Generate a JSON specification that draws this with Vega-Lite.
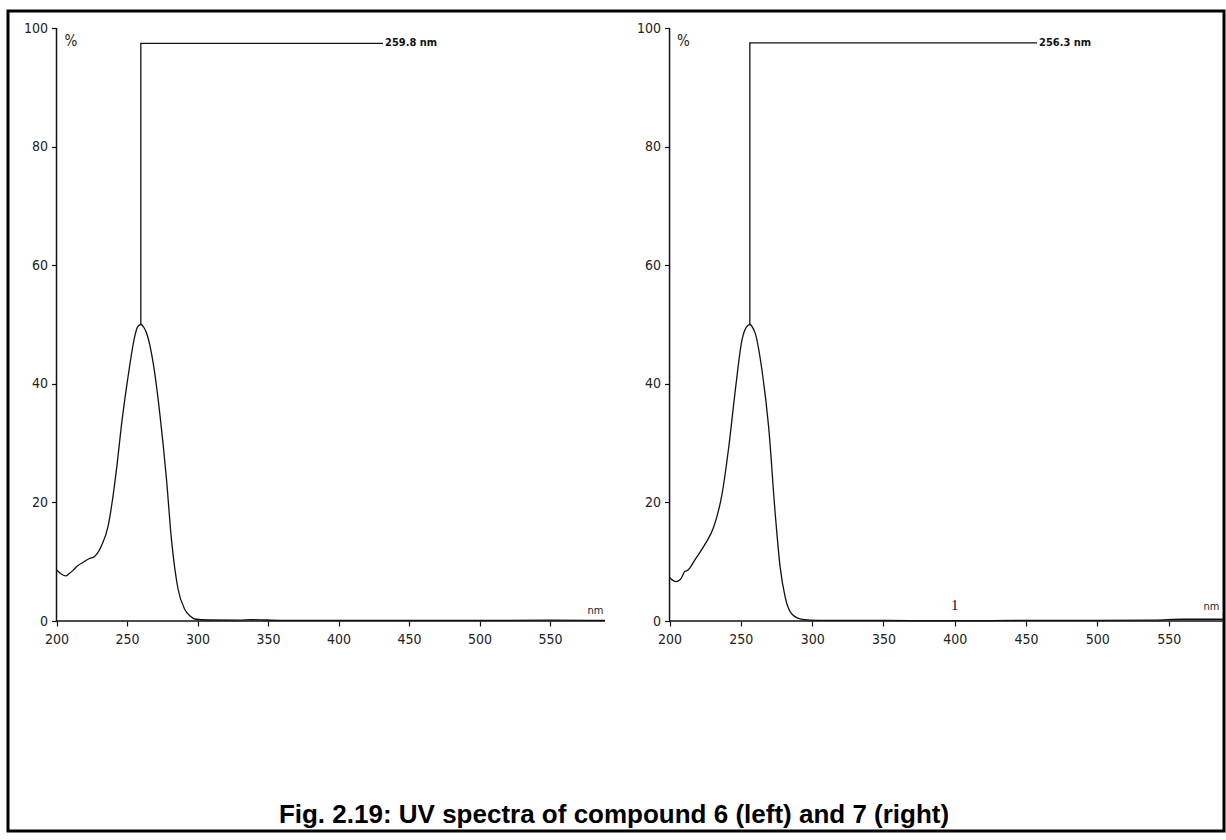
{
  "$schema": "https://vega.github.io/schema/vega-lite/v6.json",
  "width": 1216,
  "height": 820,
  "padding": {"left": 8, "top": 11, "right": 2, "bottom": 9},
  "background": "white",
  "data": {"values": [{"id": 1}]},
  "config": {
    "view": {"stroke": "black", "strokeWidth": 3},
    "axis": {
      "grid": false,
      "domain": false,
      "tickColor": "#111",
      "tickWidth": 1.2,
      "tickSize": 5,
      "labelFont": "DejaVu Sans Condensed, DejaVu Sans, sans-serif",
      "labelFontSize": 14,
      "labelColor": "#222",
      "labelFlush": false,
      "labelOverlap": false,
      "titleFont": "DejaVu Sans Condensed, DejaVu Sans, sans-serif",
      "titleFontWeight": "normal",
      "titleColor": "#222",
      "titleAngle": 0,
      "titleAlign": "center",
      "titleBaseline": "middle"
    }
  },
  "datasets": {
    "spectra": [
      {"compound": "6", "nm": 200, "pct": 8.6},
      {"compound": "6", "nm": 203, "pct": 8.0},
      {"compound": "6", "nm": 206.5, "pct": 7.6},
      {"compound": "6", "nm": 209, "pct": 8.0},
      {"compound": "6", "nm": 211.5, "pct": 8.5},
      {"compound": "6", "nm": 215, "pct": 9.3},
      {"compound": "6", "nm": 218.9, "pct": 9.9},
      {"compound": "6", "nm": 223, "pct": 10.5},
      {"compound": "6", "nm": 227, "pct": 10.9},
      {"compound": "6", "nm": 231.9, "pct": 12.7},
      {"compound": "6", "nm": 236.6, "pct": 16.0},
      {"compound": "6", "nm": 240.1, "pct": 21.1},
      {"compound": "6", "nm": 243, "pct": 26.5},
      {"compound": "6", "nm": 246, "pct": 32.9},
      {"compound": "6", "nm": 250.8, "pct": 41.3},
      {"compound": "6", "nm": 255.5, "pct": 48.0},
      {"compound": "6", "nm": 257.5, "pct": 49.6},
      {"compound": "6", "nm": 259.8, "pct": 50.0},
      {"compound": "6", "nm": 262, "pct": 49.5},
      {"compound": "6", "nm": 263.8, "pct": 48.6},
      {"compound": "6", "nm": 268.5, "pct": 43.6},
      {"compound": "6", "nm": 273.2, "pct": 35.1},
      {"compound": "6", "nm": 278, "pct": 23.9},
      {"compound": "6", "nm": 281.5, "pct": 13.8},
      {"compound": "6", "nm": 286.2, "pct": 5.4},
      {"compound": "6", "nm": 290.9, "pct": 2.0},
      {"compound": "6", "nm": 295, "pct": 0.8},
      {"compound": "6", "nm": 298, "pct": 0.34},
      {"compound": "6", "nm": 307.5, "pct": 0.17},
      {"compound": "6", "nm": 330, "pct": 0.15},
      {"compound": "6", "nm": 338, "pct": 0.25},
      {"compound": "6", "nm": 360, "pct": 0.1},
      {"compound": "6", "nm": 400, "pct": 0.1},
      {"compound": "6", "nm": 450, "pct": 0.1},
      {"compound": "6", "nm": 500, "pct": 0.1},
      {"compound": "6", "nm": 550, "pct": 0.15},
      {"compound": "6", "nm": 589, "pct": 0.1},
      {"compound": "7", "nm": 200, "pct": 7.3},
      {"compound": "7", "nm": 201.5, "pct": 7.0},
      {"compound": "7", "nm": 204.5, "pct": 6.65},
      {"compound": "7", "nm": 207.5, "pct": 7.0},
      {"compound": "7", "nm": 209, "pct": 7.6},
      {"compound": "7", "nm": 210.5, "pct": 8.3},
      {"compound": "7", "nm": 213, "pct": 8.6},
      {"compound": "7", "nm": 218, "pct": 10.4},
      {"compound": "7", "nm": 225, "pct": 13.0},
      {"compound": "7", "nm": 230.9, "pct": 15.8},
      {"compound": "7", "nm": 236.8, "pct": 21.4},
      {"compound": "7", "nm": 241.5, "pct": 29.3},
      {"compound": "7", "nm": 246.1, "pct": 38.9},
      {"compound": "7", "nm": 250.8, "pct": 47.4},
      {"compound": "7", "nm": 254, "pct": 49.6},
      {"compound": "7", "nm": 256.3, "pct": 50.0},
      {"compound": "7", "nm": 258.5, "pct": 49.4},
      {"compound": "7", "nm": 260.1, "pct": 48.5},
      {"compound": "7", "nm": 264.8, "pct": 42.3},
      {"compound": "7", "nm": 269.5, "pct": 32.7},
      {"compound": "7", "nm": 274.1, "pct": 18.1},
      {"compound": "7", "nm": 277.6, "pct": 9.0},
      {"compound": "7", "nm": 281.2, "pct": 3.9},
      {"compound": "7", "nm": 285.9, "pct": 1.13},
      {"compound": "7", "nm": 292.9, "pct": 0.29},
      {"compound": "7", "nm": 304.6, "pct": 0.1},
      {"compound": "7", "nm": 350, "pct": 0.1},
      {"compound": "7", "nm": 400, "pct": 0.05},
      {"compound": "7", "nm": 450, "pct": 0.1},
      {"compound": "7", "nm": 500, "pct": 0.1},
      {"compound": "7", "nm": 540, "pct": 0.15},
      {"compound": "7", "nm": 560, "pct": 0.3},
      {"compound": "7", "nm": 588, "pct": 0.3}
    ],
    "markers": [
      {"compound": "6", "nm": 259.8, "pct": 50.0, "step": 0, "label": ""},
      {"compound": "6", "nm": 259.8, "pct": 97.4, "step": 1, "label": ""},
      {"compound": "6", "nm": 431.6, "pct": 97.4, "step": 2, "label": "259.8 nm"},
      {"compound": "7", "nm": 256.3, "pct": 50.0, "step": 0, "label": ""},
      {"compound": "7", "nm": 256.3, "pct": 97.5, "step": 1, "label": ""},
      {"compound": "7", "nm": 457.7, "pct": 97.5, "step": 2, "label": "256.3 nm"}
    ]
  },
  "layer": [
    {
      "layer": [
        {
          "data": {"name": "spectra"},
          "transform": [{"filter": "datum.compound === '6'"}],
          "mark": {"type": "line", "interpolate": "monotone", "color": "#111", "strokeWidth": 1.3},
          "encoding": {
            "x": {"field": "nm", "type": "quantitative",
                  "scale": {"domain": [165.6, 1028.0], "nice": false, "zero": false},
                  "axis": {"orient": "bottom", "offset": -210, "values": [200, 250, 300, 350, 400, 450, 500, 550],
                           "labelPadding": 6, "title": "nm", "titleX": 587, "titleY": -11, "titleFontSize": 11}},
            "y": {"field": "pct", "type": "quantitative",
                  "scale": {"domain": [-35.41, 102.87], "nice": false, "zero": false},
                  "axis": {"orient": "left", "offset": -48.5, "values": [0, 20, 40, 60, 80, 100],
                           "labelPadding": 4, "title": "%", "titleX": 14, "titleY": 29, "titleFontSize": 15}}
          }
        },
        {
          "data": {"name": "markers"},
          "transform": [{"filter": "datum.compound === '6'"}],
          "mark": {"type": "line", "color": "#111", "strokeWidth": 1.3},
          "encoding": {
            "x": {"field": "nm", "type": "quantitative",
                  "scale": {"domain": [165.6, 1028.0], "nice": false, "zero": false},
                  "axis": {"orient": "bottom", "offset": -210, "values": [200, 250, 300, 350, 400, 450, 500, 550],
                           "labelPadding": 6, "title": "nm", "titleX": 587, "titleY": -11, "titleFontSize": 11}},
            "y": {"field": "pct", "type": "quantitative",
                  "scale": {"domain": [-35.41, 102.87], "nice": false, "zero": false},
                  "axis": {"orient": "left", "offset": -48.5, "values": [0, 20, 40, 60, 80, 100],
                           "labelPadding": 4, "title": "%", "titleX": 14, "titleY": 29, "titleFontSize": 15}},
            "order": {"field": "step", "type": "quantitative"}
          }
        },
        {
          "data": {"name": "markers"},
          "transform": [{"filter": "datum.compound === '6' && datum.step === 2"}],
          "mark": {"type": "text", "align": "left", "baseline": "middle", "dx": 2, "fontSize": 11, "fontWeight": "bold", "fill": "#111",
                   "font": "DejaVu Sans Condensed, DejaVu Sans, sans-serif"},
          "encoding": {
            "x": {"field": "nm", "type": "quantitative",
                  "scale": {"domain": [165.6, 1028.0], "nice": false, "zero": false},
                  "axis": {"orient": "bottom", "offset": -210, "values": [200, 250, 300, 350, 400, 450, 500, 550],
                           "labelPadding": 6, "title": "nm", "titleX": 587, "titleY": -11, "titleFontSize": 11}},
            "y": {"field": "pct", "type": "quantitative",
                  "scale": {"domain": [-35.41, 102.87], "nice": false, "zero": false},
                  "axis": {"orient": "left", "offset": -48.5, "values": [0, 20, 40, 60, 80, 100],
                           "labelPadding": 4, "title": "%", "titleX": 14, "titleY": 29, "titleFontSize": 15}},
            "text": {"field": "label"}
          }
        },
        {
          "mark": {"type": "rule", "color": "#111", "strokeWidth": 1.5},
          "encoding": {
            "x": {"datum": 200, "type": "quantitative",
                  "scale": {"domain": [165.6, 1028.0], "nice": false, "zero": false},
                  "axis": {"orient": "bottom", "offset": -210, "values": [200, 250, 300, 350, 400, 450, 500, 550],
                           "labelPadding": 6, "title": "nm", "titleX": 587, "titleY": -11, "titleFontSize": 11}},
            "x2": {"datum": 589},
            "y": {"datum": 0, "type": "quantitative",
                  "scale": {"domain": [-35.41, 102.87], "nice": false, "zero": false},
                  "axis": {"orient": "left", "offset": -48.5, "values": [0, 20, 40, 60, 80, 100],
                           "labelPadding": 4, "title": "%", "titleX": 14, "titleY": 29, "titleFontSize": 15}}
          }
        },
        {
          "mark": {"type": "rule", "color": "#111", "strokeWidth": 1.5},
          "encoding": {
            "x": {"datum": 200, "type": "quantitative",
                  "scale": {"domain": [165.6, 1028.0], "nice": false, "zero": false},
                  "axis": {"orient": "bottom", "offset": -210, "values": [200, 250, 300, 350, 400, 450, 500, 550],
                           "labelPadding": 6, "title": "nm", "titleX": 587, "titleY": -11, "titleFontSize": 11}},
            "y": {"datum": 0, "type": "quantitative",
                  "scale": {"domain": [-35.41, 102.87], "nice": false, "zero": false},
                  "axis": {"orient": "left", "offset": -48.5, "values": [0, 20, 40, 60, 80, 100],
                           "labelPadding": 4, "title": "%", "titleX": 14, "titleY": 29, "titleFontSize": 15}},
            "y2": {"datum": 100}
          }
        },
        {
          "mark": {"type": "text", "align": "center", "baseline": "alphabetic", "fontSize": 26, "fontWeight": "bold", "fill": "#000",
                   "font": "Liberation Sans, Arial, sans-serif"},
          "encoding": {
            "x": {"datum": 595.4, "type": "quantitative",
                  "scale": {"domain": [165.6, 1028.0], "nice": false, "zero": false},
                  "axis": {"orient": "bottom", "offset": -210, "values": [200, 250, 300, 350, 400, 450, 500, 550],
                           "labelPadding": 6, "title": "nm", "titleX": 587, "titleY": -11, "titleFontSize": 11}},
            "y": {"datum": -34.06, "type": "quantitative",
                  "scale": {"domain": [-35.41, 102.87], "nice": false, "zero": false},
                  "axis": {"orient": "left", "offset": -48.5, "values": [0, 20, 40, 60, 80, 100],
                           "labelPadding": 4, "title": "%", "titleX": 14, "titleY": 29, "titleFontSize": 15}},
            "text": {"value": "Fig. 2.19: UV spectra of compound 6 (left) and 7 (right)"}
          }
        }
      ]
    },
    {
      "layer": [
        {
          "data": {"name": "spectra"},
          "transform": [{"filter": "datum.compound === '7'"}],
          "mark": {"type": "line", "interpolate": "monotone", "color": "#111", "strokeWidth": 1.3},
          "encoding": {
            "x": {"field": "nm", "type": "quantitative",
                  "scale": {"domain": [-263.9, 588.8], "nice": false, "zero": false},
                  "axis": {"orient": "bottom", "offset": -210, "values": [200, 250, 300, 350, 400, 450, 500, 550],
                           "labelPadding": 6, "title": "nm", "titleX": 1203, "titleY": -15, "titleFontSize": 11}},
            "y": {"field": "pct", "type": "quantitative",
                  "scale": {"domain": [-35.41, 102.87], "nice": false, "zero": false},
                  "axis": {"orient": "left", "offset": -661.5, "values": [0, 20, 40, 60, 80, 100],
                           "labelPadding": 4, "title": "%", "titleX": 13.5, "titleY": 29, "titleFontSize": 15}}
          }
        },
        {
          "data": {"name": "markers"},
          "transform": [{"filter": "datum.compound === '7'"}],
          "mark": {"type": "line", "color": "#111", "strokeWidth": 1.3},
          "encoding": {
            "x": {"field": "nm", "type": "quantitative",
                  "scale": {"domain": [-263.9, 588.8], "nice": false, "zero": false},
                  "axis": {"orient": "bottom", "offset": -210, "values": [200, 250, 300, 350, 400, 450, 500, 550],
                           "labelPadding": 6, "title": "nm", "titleX": 1203, "titleY": -15, "titleFontSize": 11}},
            "y": {"field": "pct", "type": "quantitative",
                  "scale": {"domain": [-35.41, 102.87], "nice": false, "zero": false},
                  "axis": {"orient": "left", "offset": -661.5, "values": [0, 20, 40, 60, 80, 100],
                           "labelPadding": 4, "title": "%", "titleX": 13.5, "titleY": 29, "titleFontSize": 15}},
            "order": {"field": "step", "type": "quantitative"}
          }
        },
        {
          "data": {"name": "markers"},
          "transform": [{"filter": "datum.compound === '7' && datum.step === 2"}],
          "mark": {"type": "text", "align": "left", "baseline": "middle", "dx": 2, "fontSize": 11, "fontWeight": "bold", "fill": "#111",
                   "font": "DejaVu Sans Condensed, DejaVu Sans, sans-serif"},
          "encoding": {
            "x": {"field": "nm", "type": "quantitative",
                  "scale": {"domain": [-263.9, 588.8], "nice": false, "zero": false},
                  "axis": {"orient": "bottom", "offset": -210, "values": [200, 250, 300, 350, 400, 450, 500, 550],
                           "labelPadding": 6, "title": "nm", "titleX": 1203, "titleY": -15, "titleFontSize": 11}},
            "y": {"field": "pct", "type": "quantitative",
                  "scale": {"domain": [-35.41, 102.87], "nice": false, "zero": false},
                  "axis": {"orient": "left", "offset": -661.5, "values": [0, 20, 40, 60, 80, 100],
                           "labelPadding": 4, "title": "%", "titleX": 13.5, "titleY": 29, "titleFontSize": 15}},
            "text": {"field": "label"}
          }
        },
        {
          "mark": {"type": "rule", "color": "#111", "strokeWidth": 1.5},
          "encoding": {
            "x": {"datum": 200, "type": "quantitative",
                  "scale": {"domain": [-263.9, 588.8], "nice": false, "zero": false},
                  "axis": {"orient": "bottom", "offset": -210, "values": [200, 250, 300, 350, 400, 450, 500, 550],
                           "labelPadding": 6, "title": "nm", "titleX": 1203, "titleY": -15, "titleFontSize": 11}},
            "x2": {"datum": 588.8},
            "y": {"datum": 0, "type": "quantitative",
                  "scale": {"domain": [-35.41, 102.87], "nice": false, "zero": false},
                  "axis": {"orient": "left", "offset": -661.5, "values": [0, 20, 40, 60, 80, 100],
                           "labelPadding": 4, "title": "%", "titleX": 13.5, "titleY": 29, "titleFontSize": 15}}
          }
        },
        {
          "mark": {"type": "rule", "color": "#111", "strokeWidth": 1.5},
          "encoding": {
            "x": {"datum": 200, "type": "quantitative",
                  "scale": {"domain": [-263.9, 588.8], "nice": false, "zero": false},
                  "axis": {"orient": "bottom", "offset": -210, "values": [200, 250, 300, 350, 400, 450, 500, 550],
                           "labelPadding": 6, "title": "nm", "titleX": 1203, "titleY": -15, "titleFontSize": 11}},
            "y": {"datum": 0, "type": "quantitative",
                  "scale": {"domain": [-35.41, 102.87], "nice": false, "zero": false},
                  "axis": {"orient": "left", "offset": -661.5, "values": [0, 20, 40, 60, 80, 100],
                           "labelPadding": 4, "title": "%", "titleX": 13.5, "titleY": 29, "titleFontSize": 15}},
            "y2": {"datum": 100}
          }
        },
        {
          "mark": {"type": "text", "align": "center", "baseline": "middle", "fontSize": 15, "fill": "#111",
                   "font": "Liberation Serif, serif"},
          "encoding": {
            "x": {"datum": 400, "type": "quantitative",
                  "scale": {"domain": [-263.9, 588.8], "nice": false, "zero": false},
                  "axis": {"orient": "bottom", "offset": -210, "values": [200, 250, 300, 350, 400, 450, 500, 550],
                           "labelPadding": 6, "title": "nm", "titleX": 1203, "titleY": -15, "titleFontSize": 11}},
            "y": {"datum": 2.7, "type": "quantitative",
                  "scale": {"domain": [-35.41, 102.87], "nice": false, "zero": false},
                  "axis": {"orient": "left", "offset": -661.5, "values": [0, 20, 40, 60, 80, 100],
                           "labelPadding": 4, "title": "%", "titleX": 13.5, "titleY": 29, "titleFontSize": 15}},
            "text": {"value": "1"}
          }
        }
      ]
    }
  ],
  "resolve": {
    "scale": {"x": "independent", "y": "independent"},
    "axis": {"x": "independent", "y": "independent"}
  }
}
